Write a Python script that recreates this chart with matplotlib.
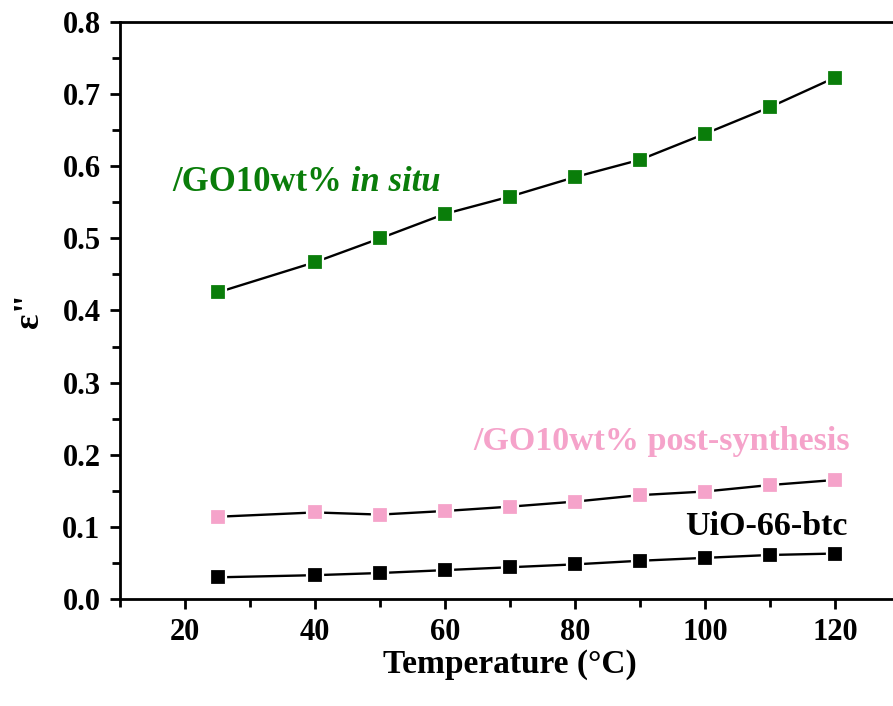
import matplotlib
matplotlib.use('Agg')
import matplotlib.pyplot as plt
from matplotlib.ticker import MultipleLocator

temps = [25, 40, 50, 60, 70, 80, 90, 100, 110, 120]
eps_insitu = [0.425, 0.467, 0.500, 0.534, 0.558, 0.585, 0.609, 0.645, 0.682, 0.723]
eps_post = [0.114, 0.120, 0.117, 0.122, 0.128, 0.135, 0.144, 0.149, 0.158, 0.165]
eps_btc = [0.030, 0.033, 0.036, 0.040, 0.044, 0.048, 0.053, 0.057, 0.061, 0.063]

green = '#0a7d0a'
pink = '#f5a3ca'

plt.rcParams['font.family'] = ['Liberation Serif', 'DejaVu Serif']
plt.rcParams['font.weight'] = 'bold'

fig = plt.figure(figsize=(8.93, 7.06), dpi=100)
ax = fig.add_axes([0.1344, 0.1516, 0.8734, 0.8172])

for vals, col in [(eps_insitu, green), (eps_post, pink), (eps_btc, 'black')]:
    ax.plot(temps, vals, color='black', lw=1.7, marker='s', ms=12,
            mfc=col, mec='white', mew=1.6)

ax.set_xlim(10, 130)
ax.set_ylim(0, 0.8)
ax.xaxis.set_major_locator(MultipleLocator(20))
ax.xaxis.set_minor_locator(MultipleLocator(10))
ax.yaxis.set_major_locator(MultipleLocator(0.1))
ax.yaxis.set_minor_locator(MultipleLocator(0.05))
ax.yaxis.set_major_formatter(plt.FuncFormatter(lambda v, p: f'{v:.1f}'))
ax.tick_params(which='both', direction='out', width=2, length=7, labelsize=22, pad=7)
ax.tick_params(which='minor', length=6)
for s in ax.spines.values():
    s.set_linewidth(2)

ax.set_xlabel('Temperature (°C)', fontsize=24, fontweight='bold', labelpad=1)
ax.set_ylabel('ε"', fontsize=26, fontweight='bold', labelpad=12)

t1 = ax.text(18.0, 0.578, '/GO10wt%', color=green, fontsize=25,
             fontweight='bold', ha='left', va='center')
ax.annotate(' in situ', xy=(1, 0), xycoords=t1, color=green, fontsize=25,
            fontweight='bold', style='italic', ha='left', va='bottom')
ax.text(64.3, 0.2185, '/GO10wt% post-synthesis', color=pink, fontsize=24.5,
        fontweight='bold', ha='left', va='center')
ax.text(96.9, 0.1006, 'UiO-66-btc', color='black', fontsize=24.5,
        fontweight='bold', ha='left', va='center')

fig.savefig('out.png', dpi=100)
